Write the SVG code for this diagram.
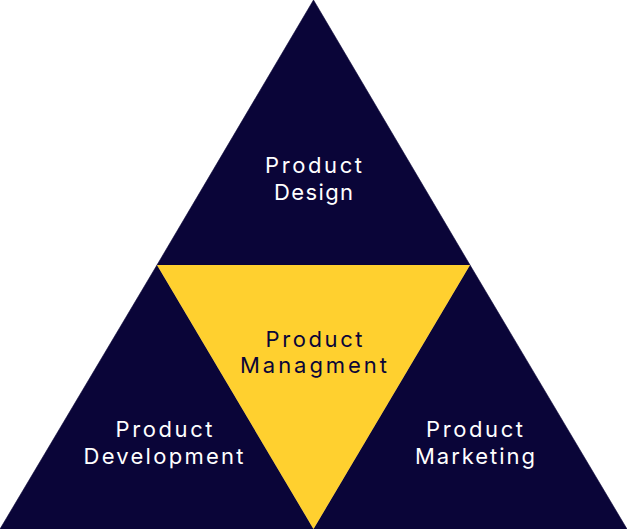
<svg xmlns="http://www.w3.org/2000/svg" width="627" height="529" viewBox="0 0 627 529">
<style>
.navy{fill:#0A0538;stroke:#0A0538;stroke-width:0.6;stroke-linejoin:round}
.yellow{fill:#FFD02F}
.lbl{font-family:Inter,"Liberation Sans",sans-serif;font-size:22px;text-anchor:middle}
.w{fill:#FFFFFF}
.d{fill:#0A0538}
</style>
<rect width="627" height="529" fill="#FFFFFF"/>
<g id="connectors"></g>
<g id="product-design">
<polygon class="navy" points="313.5,0 157,265 470,265"/>
<text class="lbl w" x="313.5" y="173" textLength="97" lengthAdjust="spacing">Product</text>
<text class="lbl w" x="313.5" y="200" textLength="79" lengthAdjust="spacing">Design</text>
</g>
<g id="product-development">
<polygon class="navy" points="157,265 0,529 313.5,529"/>
<text class="lbl w" x="164" y="437" textLength="97" lengthAdjust="spacing">Product</text>
<text class="lbl w" x="163.5" y="464" textLength="160" lengthAdjust="spacing">Development</text>
</g>
<g id="product-marketing">
<polygon class="navy" points="470,265 313.5,529 627,529"/>
<text class="lbl w" x="474.5" y="437" textLength="97" lengthAdjust="spacing">Product</text>
<text class="lbl w" x="475" y="464" textLength="120" lengthAdjust="spacing">Marketing</text>
</g>
<g id="product-managment">
<polygon class="yellow" points="157,265 470,265 313.5,529"/>
<text class="lbl d" x="314" y="347" textLength="97" lengthAdjust="spacing">Product</text>
<text class="lbl d" x="313.5" y="373" textLength="147" lengthAdjust="spacing">Managment</text>
</g>
</svg>
